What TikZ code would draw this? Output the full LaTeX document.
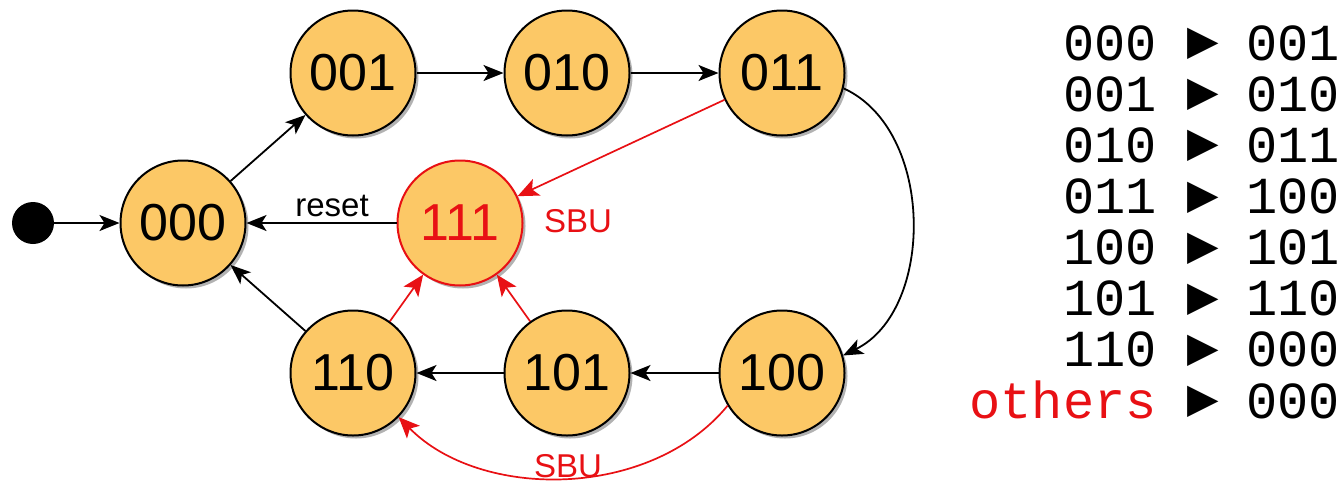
\documentclass[tikz,border=0pt]{standalone}
\usepackage{fontspec}
\setmainfont{Liberation Sans}
\newfontfamily\monofont{Liberation Mono}
\newfontfamily\symfont{DejaVu Sans}
\usetikzlibrary{arrows.meta,shadows}
\definecolor{stfill}{RGB}{252,200,102}
\definecolor{sbured}{RGB}{232,16,20}
\tikzset{
  state/.style={circle, draw=black, line width=2pt, fill=stfill, minimum size=125pt, inner sep=0pt,
    font=\fontsize{52}{52}\selectfont,
    drop shadow={shadow xshift=3pt, shadow yshift=-3pt, opacity=0.3, fill=black}},
  redstate/.style={state, draw=sbured, text=sbured},
  edge/.style={line width=1.8pt, -{Stealth[length=20pt,width=16pt,inset=5pt]}},
  redge/.style={line width=1.7pt, draw=sbured, -{Stealth[length=21pt,width=18pt,inset=5pt]}},
  lbl/.style={font=\fontsize{33}{33}\selectfont, inner sep=0pt},
  tab/.style={font=\monofont\fontsize{52}{52}\selectfont, inner sep=0pt},
  tri/.style={font=\symfont\fontsize{41}{41}\selectfont, inner sep=0pt}
}
\begin{document}
\begin{tikzpicture}[x=1pt,y=1pt]
\useasboundingbox (0,0) rectangle (1341,-485);
% states
\node[circle, fill=black, minimum size=42pt, inner sep=0pt] (init) at (33,-223) {};
\node[state] (s000) at (183,-223) {000};
\node[state] (s001) at (353,-73) {001};
\node[state] (s010) at (567,-73) {010};
\node[state] (s011) at (782,-73) {011};
\node[redstate] (s111) at (460,-223) {111};
\node[state] (s110) at (353,-373) {110};
\node[state] (s101) at (567,-373) {101};
\node[state] (s100) at (782,-373) {100};
% black transitions
\draw[edge] (init) -- (s000);
\draw[edge] (s000) -- (s001);
\draw[edge] (s001) -- (s010);
\draw[edge] (s010) -- (s011);
\draw[edge] (s011.-14) .. controls (935,-130) and (935,-310) .. (s100.16);
\draw[edge] (s100) -- (s101);
\draw[edge] (s101) -- (s110);
\draw[edge] (s110) -- (s000);
\draw[edge] (s111) -- node[lbl, above=5pt, pos=0.43] (lreset) {reset} (s000);
% red transitions
\draw[redge] (s011) -- (s111);
\draw[redge] (s110) -- (s111);
\draw[redge] (s101) -- (s111);
\draw[redge] (s100.211) .. controls (650,-500) and (480,-500) .. (s110.-44);
\node[lbl, text=sbured] (sbu1) at (578,-221) {SBU};
\node[lbl, text=sbured] (sbu2) at (568,-466) {SBU};
% table
\foreach \a/\b [count=\i from 0] in {000/001,001/010,010/011,011/100,100/101,101/110,110/000} {
  \node[tab, anchor=base east] (l\i) at (1157,{-60-51.15*\i}) {\a};
  \node[tri] (t\i) at (1203,{-44-51.15*\i}) {▶};
  \node[tab, anchor=base west] (r\i) at (1246,{-60-51.15*\i}) {\b};
}
\node[tab, anchor=base east, text=sbured] (l7) at (1157,{-60-51.15*7}) {others};
\node[tri] (t7) at (1203,{-44-51.15*7}) {▶};
\node[tab, anchor=base west] (r7) at (1246,{-60-51.15*7}) {000};
\end{tikzpicture}
\end{document}
